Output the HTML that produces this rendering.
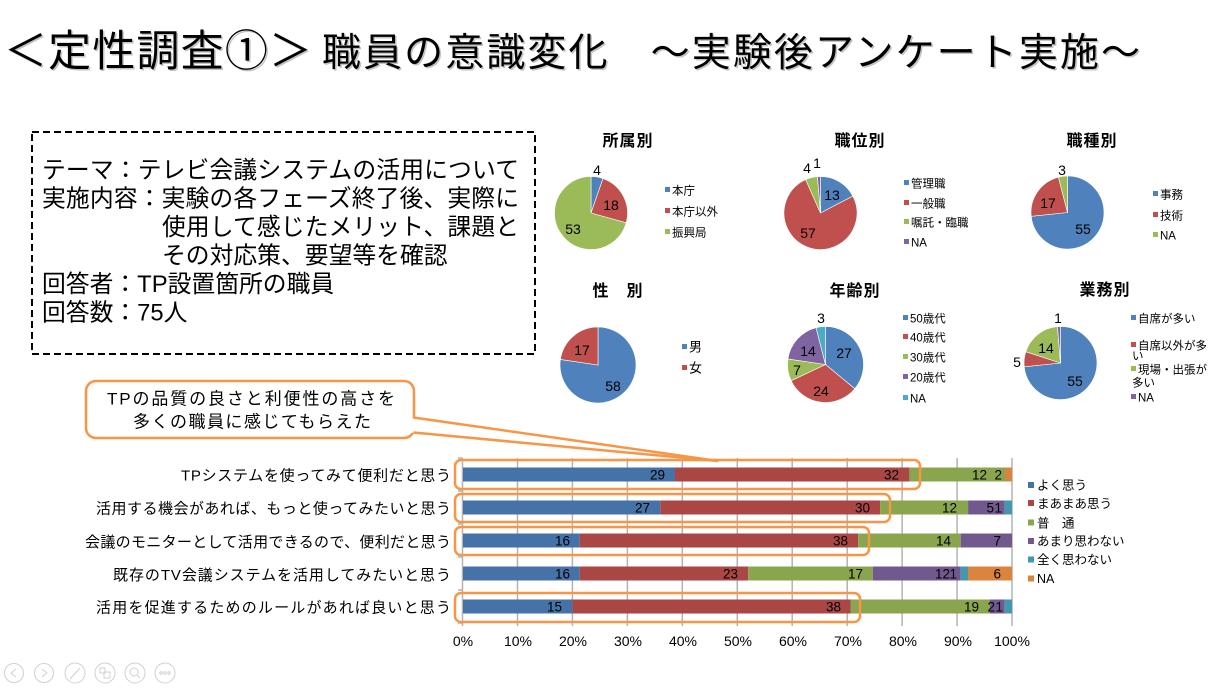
<!DOCTYPE html>
<html>
<head>
<meta charset="utf-8">
<style>
html,body{margin:0;padding:0;background:#fff;overflow:hidden;}
svg{display:block;}
text{font-family:"Liberation Sans","Noto Sans CJK JP",sans-serif;fill:#000;}
</style>
</head>
<body>
<svg width="1224" height="689" viewBox="0 0 1224 689" xmlns="http://www.w3.org/2000/svg">
<rect width="1224" height="689" fill="#fff"/>

<!-- Title with shadow -->
<g fill="#888" opacity="0.5">
<text x="5.5" y="67.5" font-size="43" textLength="308" style="fill:#888">＜定性調査①＞</text>
<text x="323.5" y="67.5" font-size="39" textLength="818" style="fill:#888">職員の意識変化　～実験後アンケート実施～</text>
</g>
<text x="4" y="66" font-size="43" textLength="308">＜定性調査①＞</text>
<text x="322" y="66" font-size="39" textLength="818">職員の意識変化　～実験後アンケート実施～</text>

<!-- Dashed info box -->
<rect x="32" y="132" width="503" height="222" fill="none" stroke="#000" stroke-width="2" stroke-dasharray="7 4"/>
<g font-size="23.8">
<text x="42" y="178" textLength="477">テーマ：テレビ会議システムの活用について</text>
<text x="42" y="206.5" textLength="477">実施内容：実験の各フェーズ終了後、実際に</text>
<text x="162" y="235" textLength="357">使用して感じたメリット、課題と</text>
<text x="162" y="263.5">その対応策、要望等を確認</text>
<text x="42" y="292">回答者：TP設置箇所の職員</text>
<text x="42" y="320.5">回答数：75人</text>
</g>

<!-- Callout -->
<rect x="86" y="381" width="328" height="57" rx="10" ry="10" fill="#fff" stroke="#F79646" stroke-width="2.5"/>
<polygon points="411,418 718,461 411,432.5" fill="#fff"/>
<line x1="413.5" y1="417.5" x2="718" y2="461" stroke="#F79646" stroke-width="2.5"/>
<line x1="413.5" y1="432.5" x2="718" y2="461" stroke="#F79646" stroke-width="2.5"/>
<text x="251" y="404.5" font-size="17" text-anchor="middle" textLength="288">TPの品質の良さと利便性の高さを</text>
<text x="252" y="427.5" font-size="17" text-anchor="middle" textLength="238">多くの職員に感じてもらえた</text>

<!-- Pie titles -->
<g font-size="16" font-weight="bold" text-anchor="middle" letter-spacing="1">
<text x="628" y="146">所属別</text>
<text x="860" y="146">職位別</text>
<text x="1092" y="146">職種別</text>
<text x="618" y="296">性　別</text>
<text x="855" y="296">年齢別</text>
<text x="1105" y="295">業務別</text>
</g>

<!-- Pies -->
<g stroke="#fff" stroke-width="0.6">
<!-- Pie 1 -->
<path d="M591 213 L591 176.5 A36.5 36.5 0 0 1 603.00 178.53Z" fill="#4F81BD"/>
<path d="M591 213 L603.00 178.53 A36.5 36.5 0 0 1 626.16 222.81Z" fill="#C0504D"/>
<path d="M591 213 L626.16 222.81 A36.5 36.5 0 1 1 591 176.5Z" fill="#9BBB59"/>
<!-- Pie 2 -->
<path d="M820.5 213 L820.5 176.5 A36.5 36.5 0 0 1 852.85 196.09Z" fill="#4F81BD"/>
<path d="M820.5 213 L852.85 196.09 A36.5 36.5 0 1 1 805.65 179.66Z" fill="#C0504D"/>
<path d="M820.5 213 L805.65 179.66 A36.5 36.5 0 0 1 817.45 176.63Z" fill="#9BBB59"/>
<path d="M820.5 213 L817.45 176.63 A36.5 36.5 0 0 1 820.5 176.5Z" fill="#8064A2"/>
<!-- Pie 3 -->
<path d="M1067.5 212.5 L1067.5 176 A36.5 36.5 0 1 1 1031.20 216.32Z" fill="#4F81BD"/>
<path d="M1067.5 212.5 L1031.20 216.32 A36.5 36.5 0 0 1 1058.42 177.15Z" fill="#C0504D"/>
<path d="M1067.5 212.5 L1058.42 177.15 A36.5 36.5 0 0 1 1067.5 176Z" fill="#9BBB59"/>
<!-- Pie 4 -->
<path d="M598 365 L598 327 A38 38 0 1 1 560.41 359.45Z" fill="#4F81BD"/>
<path d="M598 365 L560.41 359.45 A38 38 0 0 1 598 327Z" fill="#C0504D"/>
<!-- Pie 5 -->
<path d="M825.5 364.5 L825.5 326.5 A38 38 0 0 1 854.78 388.72Z" fill="#4F81BD"/>
<path d="M825.5 364.5 L854.78 388.72 A38 38 0 0 1 791.12 380.68Z" fill="#C0504D"/>
<path d="M825.5 364.5 L791.12 380.68 A38 38 0 0 1 787.91 358.95Z" fill="#9BBB59"/>
<path d="M825.5 364.5 L787.91 358.95 A38 38 0 0 1 816.05 327.69Z" fill="#8064A2"/>
<path d="M825.5 364.5 L816.05 327.69 A38 38 0 0 1 825.5 326.5Z" fill="#4BACC6"/>
<!-- Pie 6 -->
<path d="M1060.5 363 L1060.5 326.5 A36.5 36.5 0 1 1 1024.20 366.82Z" fill="#4F81BD"/>
<path d="M1060.5 363 L1024.20 366.82 A36.5 36.5 0 0 1 1025.79 351.72Z" fill="#C0504D"/>
<path d="M1060.5 363 L1025.79 351.72 A36.5 36.5 0 0 1 1057.45 326.63Z" fill="#9BBB59"/>
<path d="M1060.5 363 L1057.45 326.63 A36.5 36.5 0 0 1 1060.5 326.5Z" fill="#8064A2"/>
</g>

<!-- Pie data labels -->
<g font-size="14" text-anchor="middle">
<text x="597" y="175">4</text>
<text x="611" y="210">18</text>
<text x="573" y="234">53</text>
<text x="832" y="200">13</text>
<text x="808" y="238">57</text>
<text x="807" y="173">4</text>
<text x="817" y="168">1</text>
<text x="1062" y="175">3</text>
<text x="1048" y="208">17</text>
<text x="1083" y="234">55</text>
<text x="582" y="355">17</text>
<text x="613" y="391">58</text>
<text x="844" y="358">27</text>
<text x="821" y="396">24</text>
<text x="797" y="375">7</text>
<text x="808" y="356">14</text>
<text x="821" y="323">3</text>
<text x="1058" y="323">1</text>
<text x="1046" y="353">14</text>
<text x="1017" y="367">5</text>
<text x="1075" y="386">55</text>
</g>

<!-- Pie legends -->
<g font-size="11.5">
<rect x="665" y="187" width="5" height="5" fill="#4F81BD"/><text x="672" y="194.4">本庁</text>
<rect x="665" y="208" width="5" height="5" fill="#C0504D"/><text x="672" y="215.4">本庁以外</text>
<rect x="665" y="229" width="5" height="5" fill="#9BBB59"/><text x="672" y="236.4">振興局</text>

<rect x="904" y="180" width="5" height="5" fill="#4F81BD"/><text x="911" y="187.4">管理職</text>
<rect x="904" y="200" width="5" height="5" fill="#C0504D"/><text x="911" y="207.4">一般職</text>
<rect x="904" y="219" width="5" height="5" fill="#9BBB59"/><text x="911" y="226.4">嘱託・臨職</text>
<rect x="904" y="239" width="5" height="5" fill="#8064A2"/><text x="911" y="246.4">NA</text>

<rect x="1153" y="191" width="5" height="5" fill="#4F81BD"/><text x="1160" y="198.4">事務</text>
<rect x="1153" y="212" width="5" height="5" fill="#C0504D"/><text x="1160" y="219.4">技術</text>
<rect x="1153" y="232" width="5" height="5" fill="#9BBB59"/><text x="1160" y="239.4">NA</text>

<rect x="682" y="344" width="5" height="5" fill="#4F81BD"/><text x="689" y="351.5" font-size="13">男</text>
<rect x="682" y="365" width="5" height="5" fill="#C0504D"/><text x="689" y="372.5" font-size="13">女</text>

<rect x="903" y="315" width="5" height="5" fill="#4F81BD"/><text x="910" y="322.4">50歳代</text>
<rect x="903" y="334" width="5" height="5" fill="#C0504D"/><text x="910" y="341.4">40歳代</text>
<rect x="903" y="354" width="5" height="5" fill="#9BBB59"/><text x="910" y="361.4">30歳代</text>
<rect x="903" y="374" width="5" height="5" fill="#8064A2"/><text x="910" y="381.4">20歳代</text>
<rect x="903" y="395" width="5" height="5" fill="#4BACC6"/><text x="910" y="402.4">NA</text>

<rect x="1131" y="315" width="5" height="5" fill="#4F81BD"/><text x="1138" y="322.4">自席が多い</text>
<rect x="1131" y="342" width="5" height="5" fill="#C0504D"/><text x="1138" y="349.4">自席以外が多</text>
<text x="1132" y="359.4">い</text>
<rect x="1131" y="366" width="5" height="5" fill="#9BBB59"/><text x="1138" y="373.4">現場・出張が</text>
<text x="1132" y="386.4">多い</text>
<rect x="1131" y="394" width="5" height="5" fill="#8064A2"/><text x="1138" y="401.4">NA</text>
</g>

<!-- Bar chart gridlines -->
<g stroke="#B3B3B3" stroke-width="1.5">
<line x1="462.5" y1="458" x2="462.5" y2="626"/>
<line x1="517.5" y1="458" x2="517.5" y2="626"/>
<line x1="572.4" y1="458" x2="572.4" y2="626"/>
<line x1="627.4" y1="458" x2="627.4" y2="626"/>
<line x1="682.3" y1="458" x2="682.3" y2="626"/>
<line x1="737.3" y1="458" x2="737.3" y2="626"/>
<line x1="792.2" y1="458" x2="792.2" y2="626"/>
<line x1="847.2" y1="458" x2="847.2" y2="626"/>
<line x1="902.1" y1="458" x2="902.1" y2="626"/>
<line x1="957.1" y1="458" x2="957.1" y2="626"/>
<line x1="1012" y1="458" x2="1012" y2="626"/>
<line x1="458" y1="458" x2="462.5" y2="458"/>
<line x1="458" y1="491" x2="462.5" y2="491"/>
<line x1="458" y1="524" x2="462.5" y2="524"/>
<line x1="458" y1="557" x2="462.5" y2="557"/>
<line x1="458" y1="590" x2="462.5" y2="590"/>
<line x1="458" y1="623" x2="462.5" y2="623"/>
</g>

<!-- Bars -->
<!-- Row 1 -->
<rect x="463" y="467.5" width="212" height="14" fill="#4572A7"/>
<rect x="675" y="467.5" width="234.4" height="14" fill="#AA4643"/>
<rect x="909.4" y="467.5" width="95.6" height="14" fill="#89A54E"/>
<rect x="1005" y="467.5" width="7" height="14" fill="#DB843D"/>
<!-- Row 2 -->
<rect x="463" y="500.5" width="197.3" height="14" fill="#4572A7"/>
<rect x="660.3" y="500.5" width="219.8" height="14" fill="#AA4643"/>
<rect x="880.1" y="500.5" width="88" height="14" fill="#89A54E"/>
<rect x="968.1" y="500.5" width="36.6" height="14" fill="#71588F"/>
<rect x="1004.7" y="500.5" width="7.3" height="14" fill="#4198AF"/>
<!-- Row 3 -->
<rect x="463" y="533.5" width="116.7" height="14" fill="#4572A7"/>
<rect x="579.7" y="533.5" width="278.4" height="14" fill="#AA4643"/>
<rect x="858.1" y="533.5" width="102.6" height="14" fill="#89A54E"/>
<rect x="960.7" y="533.5" width="51.3" height="14" fill="#71588F"/>
<!-- Row 4 -->
<rect x="463" y="566.5" width="116.7" height="14" fill="#4572A7"/>
<rect x="579.7" y="566.5" width="168.5" height="14" fill="#AA4643"/>
<rect x="748.2" y="566.5" width="124.6" height="14" fill="#89A54E"/>
<rect x="872.8" y="566.5" width="87.9" height="14" fill="#71588F"/>
<rect x="960.7" y="566.5" width="7.3" height="14" fill="#4198AF"/>
<rect x="968" y="566.5" width="44" height="14" fill="#DB843D"/>
<!-- Row 5 -->
<rect x="463" y="599.5" width="109.4" height="14" fill="#4572A7"/>
<rect x="572.4" y="599.5" width="278.4" height="14" fill="#AA4643"/>
<rect x="850.8" y="599.5" width="139.2" height="14" fill="#89A54E"/>
<rect x="990" y="599.5" width="14.7" height="14" fill="#71588F"/>
<rect x="1004.7" y="599.5" width="7.3" height="14" fill="#4198AF"/>

<!-- Bar data labels -->
<g font-size="13.5" text-anchor="end">
<text x="665" y="479.5">29</text><text x="899" y="479.5">32</text><text x="987" y="479.5">12</text><text x="1002" y="479.5">2</text>
<text x="650" y="512.5">27</text><text x="870" y="512.5">30</text><text x="957" y="512.5">12</text><text x="994" y="512.5">5</text><text x="1002" y="512.5">1</text>
<text x="570" y="545.5">16</text><text x="848" y="545.5">38</text><text x="951" y="545.5">14</text><text x="1001" y="545.5">7</text>
<text x="570" y="578.5">16</text><text x="738" y="578.5">23</text><text x="863" y="578.5">17</text><text x="950" y="578.5">12</text><text x="957" y="578.5">1</text><text x="1001" y="578.5">6</text>
<text x="562" y="611.5">15</text><text x="841" y="611.5">38</text><text x="979" y="611.5">19</text><text x="995" y="611.5">2</text><text x="1003" y="611.5">1</text>
</g>

<!-- Highlight rectangles -->
<g fill="none" stroke="#F79646" stroke-width="2.5">
<rect x="455" y="460" width="465" height="29" rx="6" ry="6"/>
<rect x="455" y="494" width="435" height="28" rx="6" ry="6"/>
<rect x="455" y="527" width="414" height="28" rx="6" ry="6"/>
<rect x="455" y="593" width="405" height="29" rx="6" ry="6"/>
</g>

<!-- Row labels -->
<g font-size="15" text-anchor="end">
<text x="451" y="480.5" textLength="270">TPシステムを使ってみて便利だと思う</text>
<text x="451" y="513.5" textLength="355">活用する機会があれば、もっと使ってみたいと思う</text>
<text x="451" y="547" textLength="366">会議のモニターとして活用できるので、便利だと思う</text>
<text x="451" y="580" textLength="338">既存のTV会議システムを活用してみたいと思う</text>
<text x="451" y="612.5" textLength="355">活用を促進するためのルールがあれば良いと思う</text>
</g>

<!-- X tick labels -->
<g font-size="14" text-anchor="middle">
<text x="463" y="646">0%</text>
<text x="518" y="646">10%</text>
<text x="573" y="646">20%</text>
<text x="628" y="646">30%</text>
<text x="683" y="646">40%</text>
<text x="738" y="646">50%</text>
<text x="793" y="646">60%</text>
<text x="848" y="646">70%</text>
<text x="903" y="646">80%</text>
<text x="958" y="646">90%</text>
<text x="1012" y="646">100%</text>
</g>

<!-- Bar legend -->
<g font-size="12.5">
<rect x="1028" y="482" width="6" height="6" fill="#4572A7"/><text x="1037" y="489.7">よく思う</text>
<rect x="1028" y="500" width="6" height="6" fill="#AA4643"/><text x="1037" y="508">まあまあ思う</text>
<rect x="1028" y="519.5" width="6" height="6" fill="#89A54E"/><text x="1037" y="527.4">普　通</text>
<rect x="1028" y="538" width="6" height="6" fill="#71588F"/><text x="1037" y="545.7">あまり思わない</text>
<rect x="1028" y="556.5" width="6" height="6" fill="#4198AF"/><text x="1037" y="564">全く思わない</text>
<rect x="1028" y="575.5" width="6" height="6" fill="#DB843D"/><text x="1037" y="583">NA</text>
</g>

<!-- Bottom toolbar icons -->
<g fill="none" stroke="#D0D0D0" stroke-width="1">
<circle cx="14" cy="673" r="9.5"/>
<circle cx="44" cy="673" r="9.5"/>
<circle cx="75" cy="673" r="10"/>
<circle cx="105" cy="673" r="10"/>
<circle cx="135" cy="673" r="10"/>
<circle cx="165" cy="673" r="10"/>
<polyline points="16,669 11,673 16,677"/>
<polyline points="42,669 47,673 42,677"/>
<line x1="70" y1="679" x2="80" y2="668"/>
<rect x="100" y="668" width="5" height="5"/><rect x="104" y="672" width="6" height="6"/>
<circle cx="134" cy="672" r="4"/><line x1="137" y1="675" x2="140" y2="678"/>
<circle cx="161" cy="673" r="1.2"/><circle cx="165" cy="673" r="1.2"/><circle cx="169" cy="673" r="1.2"/>
</g>
</svg>
</body>
</html>
